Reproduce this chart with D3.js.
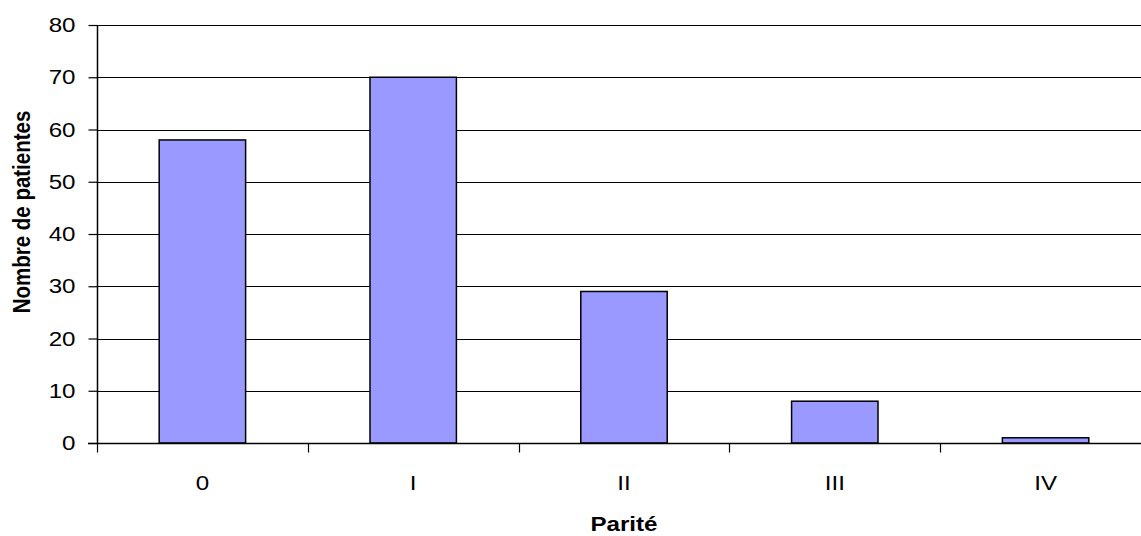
<!DOCTYPE html>
<html>
<head>
<meta charset="utf-8">
<script src="https://cdn.jsdelivr.net/npm/d3@7"></script>
<style>
  html, body { margin: 0; padding: 0; background: #fff; }
  svg { display: block; font-family: "Liberation Sans", Arial, sans-serif; }
</style>
</head>
<body>
<svg id="chart" width="1141" height="536"></svg>
<script>
// Parity distribution of patients
const categories = ["0", "I", "II", "III", "IV"];
const patients = [58, 70, 29, 8, 1];
const yTicks = [0, 10, 20, 30, 40, 50, 60, 70, 80];

const svg = d3.select("#chart");
const margin = { left: 97, top: 25, plotRight: 1151, bottom: 443 };
const fontSize = 21;
const stretch = 1.15; // horizontal widening of the lettering

const x = d3.scaleBand()
  .domain(categories)
  .range([margin.left, margin.plotRight])
  .paddingInner(0.59)
  .paddingOuter(0.295);

const xOuter = d3.scaleBand()
  .domain(categories)
  .range([margin.left, margin.plotRight]);

const y = d3.scaleLinear().domain([0, 80]).range([margin.bottom, margin.top]);

// Horizontal gridlines
svg.append("g")
  .selectAll("line")
  .data(yTicks.filter(d => d > 0))
  .join("line")
  .attr("x1", margin.left)
  .attr("x2", margin.plotRight)
  .attr("y1", d => Math.round(y(d)) + 0.5)
  .attr("y2", d => Math.round(y(d)) + 0.5)
  .attr("stroke", "#000")
  .attr("stroke-width", 1);

// Bars
svg.append("g")
  .selectAll("rect")
  .data(categories.map((c, i) => ({ c, v: patients[i] })))
  .join("rect")
  .attr("x", d => x(d.c))
  .attr("y", d => y(d.v))
  .attr("width", x.bandwidth())
  .attr("height", d => y(0) - y(d.v))
  .attr("fill", "#9999ff")
  .attr("stroke", "#000")
  .attr("stroke-width", 1.5);

// Y axis
const yAxis = d3.axisLeft(y).tickValues(yTicks).tickSize(9).tickPadding(0);
const gy = svg.append("g")
  .attr("transform", `translate(${margin.left + 0.5},0)`)
  .call(yAxis);
gy.select(".domain").attr("stroke", "#000").attr("stroke-width", 1.5)
  .attr("d", `M0,${margin.top}V${margin.bottom}`);
gy.selectAll(".tick line").attr("stroke", "#000").attr("stroke-width", 1.2);
gy.selectAll(".tick text")
  .attr("x", null)
  .attr("transform", `translate(-22,0) scale(${stretch},1)`)
  .attr("font-family", "'Liberation Sans', Arial, sans-serif")
  .attr("font-size", fontSize).attr("fill", "#000");

// X axis: ticks at category boundaries
const gx = svg.append("g").attr("transform", `translate(0,${margin.bottom + 0.5})`);
gx.append("line")
  .attr("x1", margin.left - 9).attr("x2", margin.plotRight)
  .attr("y1", 0).attr("y2", 0)
  .attr("stroke", "#000").attr("stroke-width", 1.5);
gx.selectAll("line.bound")
  .data(categories)
  .join("line")
  .attr("class", "bound")
  .attr("x1", d => Math.round(xOuter(d)) + 0.5)
  .attr("x2", d => Math.round(xOuter(d)) + 0.5)
  .attr("y1", 0).attr("y2", 9)
  .attr("stroke", "#000").attr("stroke-width", 1.2);
gx.selectAll("text")
  .data(categories)
  .join("text")
  .attr("transform", d => `translate(${xOuter(d) + xOuter.bandwidth() / 2},46) scale(${stretch},1)`)
  .attr("text-anchor", "middle")
  .attr("font-size", fontSize)
  .attr("fill", "#000")
  .text(d => d);

// Axis titles
svg.append("text")
  .attr("transform", `translate(${(margin.left + margin.plotRight) / 2},531) scale(${stretch},1)`)
  .attr("text-anchor", "middle")
  .attr("font-size", fontSize)
  .attr("font-weight", "bold")
  .text("Parité");

svg.append("text")
  .attr("transform", `translate(30,212) scale(${stretch},1) rotate(-90)`)
  .attr("text-anchor", "middle")
  .attr("font-size", 20.5)
  .attr("font-weight", "bold")
  .text("Nombre de patientes");
</script>
</body>
</html>
